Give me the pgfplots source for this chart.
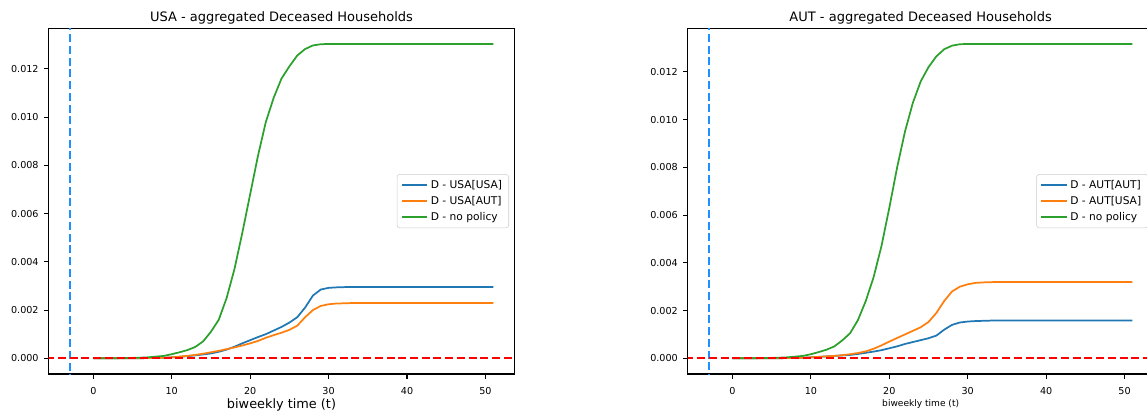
\documentclass[border=0pt]{standalone}
\usepackage{fontspec}
\setmainfont{DejaVu Sans}
\usepackage{pgfplots}
\pgfplotsset{compat=1.18}
\usepackage{pgfplotstable}

\definecolor{tabblue}{HTML}{1F77B4}
\definecolor{taborange}{HTML}{FF7F0E}
\definecolor{tabgreen}{HTML}{2CA02C}
\definecolor{vblue}{HTML}{1E90FF}
\definecolor{legframe}{HTML}{CCCCCC}

\pgfplotstableread{
t b o g
0 0 0 0
1 0 0 0
2 0 0 0.000002
3 0.000001 0.000001 0.000005
4 0.000002 0.000002 0.00001
5 0.000003 0.000003 0.000015
6 0.000005 0.000005 0.000025
7 0.000008 0.000008 0.00004
8 0.000012 0.000012 0.00007
9 0.00002 0.00002 0.0001
10 0.00004 0.00004 0.00017
11 0.00006 0.00007 0.00025
12 0.00009 0.0001 0.00034
13 0.00012 0.00014 0.00047
14 0.00016 0.00019 0.0007
15 0.0002 0.00025 0.0011
16 0.00027 0.00031 0.0016
17 0.00036 0.00038 0.0025
18 0.00048 0.00045 0.0037
19 0.00062 0.00053 0.0052
20 0.00075 0.00062 0.0068
21 0.00088 0.00072 0.0084
22 0.001 0.00085 0.0098
23 0.00115 0.00096 0.0108
24 0.0013 0.00106 0.0116
25 0.00148 0.00118 0.0121
26 0.0017 0.00135 0.01255
27 0.0021 0.0017 0.01282
28 0.0026 0.002 0.01297
29 0.00285 0.00217 0.01302
30 0.00292 0.00224 0.01303
31 0.00294 0.00227 0.01303
32 0.00295 0.00228 0.01303
33 0.00296 0.00229 0.01303
34 0.00296 0.00229 0.01303
35 0.00296 0.00229 0.01303
36 0.00296 0.00229 0.01303
37 0.00296 0.00229 0.01303
38 0.00296 0.00229 0.01303
39 0.00296 0.00229 0.01303
40 0.00296 0.00229 0.01303
41 0.00296 0.00229 0.01303
42 0.00296 0.00229 0.01303
43 0.00296 0.00229 0.01303
44 0.00296 0.00229 0.01303
45 0.00296 0.00229 0.01303
46 0.00296 0.00229 0.01303
47 0.00296 0.00229 0.01303
48 0.00296 0.00229 0.01303
49 0.00296 0.00229 0.01303
50 0.00296 0.00229 0.01303
51 0.00296 0.00229 0.01303
}\usadata

\pgfplotstableread{
t b o g
0 0 0 0
1 0 0 0
2 0 0 0.000002
3 0.000001 0.000001 0.000005
4 0.000002 0.000002 0.00001
5 0.000003 0.000003 0.000015
6 0.000005 0.000005 0.000025
7 0.000008 0.000008 0.00004
8 0.000012 0.000012 0.00007
9 0.00002 0.00002 0.0001
10 0.00004 0.00004 0.00017
11 0.00006 0.00006 0.00026
12 0.00008 0.00008 0.00036
13 0.0001 0.0001 0.0005
14 0.00012 0.00013 0.00075
15 0.00014 0.00017 0.00105
16 0.00018 0.00022 0.0016
17 0.00023 0.00029 0.0024
18 0.00028 0.0004 0.0034
19 0.00034 0.00054 0.0047
20 0.00042 0.0007 0.0063
21 0.0005 0.00085 0.0080
22 0.0006 0.001 0.0095
23 0.00068 0.00115 0.0107
24 0.00076 0.0013 0.0116
25 0.00084 0.00152 0.0122
26 0.00095 0.0019 0.01265
27 0.0012 0.0024 0.01295
28 0.0014 0.0028 0.01310
29 0.0015 0.003 0.01316
30 0.00154 0.0031 0.01317
31 0.00156 0.00316 0.01317
32 0.00157 0.00318 0.01317
33 0.00158 0.00319 0.01317
34 0.00158 0.0032 0.01317
35 0.00158 0.0032 0.01317
36 0.00158 0.0032 0.01317
37 0.00158 0.0032 0.01317
38 0.00158 0.0032 0.01317
39 0.00158 0.0032 0.01317
40 0.00158 0.0032 0.01317
41 0.00158 0.0032 0.01317
42 0.00158 0.0032 0.01317
43 0.00158 0.0032 0.01317
44 0.00158 0.0032 0.01317
45 0.00158 0.0032 0.01317
46 0.00158 0.0032 0.01317
47 0.00158 0.0032 0.01317
48 0.00158 0.0032 0.01317
49 0.00158 0.0032 0.01317
50 0.00158 0.0032 0.01317
51 0.00158 0.0032 0.01317
}\autdata

\pgfplotsset{
  panel/.style={
    scale only axis, width=349.4pt, height=259.3pt,
    anchor=south west,
    xmin=-5.7, xmax=53.7,
    axis line style={line width=0.8pt},
    tick align=outside, xtick pos=bottom, ytick pos=left,
    major tick length=3.4pt,
    tick style={black, line width=0.8pt},
    xtick={0,10,20,30,40,50},
    ytick={0,0.002,0.004,0.006,0.008,0.010,0.012},
    scaled y ticks=false,
    yticklabel style={/pgf/number format/.cd, fixed, fixed zerofill, precision=3, /tikz/.cd},
    /pgf/number format/assume math mode=true,
    tick label style={font=\fontsize{7.2}{8.5}\selectfont},
    xticklabel style={anchor=base, yshift=-11.6pt},
    yticklabel style={anchor=east, inner sep=0pt, xshift=-3.9pt},
    title style={at={(axis description cs:0.5,1)}, anchor=base, yshift=-1pt, font=\fontsize{9.75}{11}\selectfont},
    legend style={at={(axis description cs:1,0.5)}, anchor=east, xshift=-4.1pt,
      draw=legframe, rounded corners=2pt, fill=white, fill opacity=0.8, text opacity=1,
      font=\fontsize{8}{9.5}\selectfont, inner xsep=3pt, inner ysep=2pt, row sep=0pt,
      nodes={inner ysep=2pt, text height=6.2pt, text depth=1.8pt}},
    legend cell align=left,
    legend image code/.code={\draw[#1, line width=1.3pt] (0pt,0.25pt) -- (19pt,0.25pt);},
    every axis plot/.append style={line width=1.3pt},
  }
}

\begin{document}
\begin{tikzpicture}
\begin{axis}[panel, at={(36.45pt,28.5pt)},
  ymin=-0.0006515, ymax=0.0136815,
  title={USA - aggregated Deceased Households},
  xlabel={biweekly time (t)},
  xlabel style={at={(axis description cs:0.5,0)}, anchor=base, yshift=-25.5pt, font=\fontsize{9.65}{11}\selectfont}]
\addplot[tabblue] table[x=t,y=b]{\usadata};
\addlegendentry{D - USA[USA]}
\addplot[taborange] table[x=t,y=o]{\usadata};
\addlegendentry{D - USA[AUT]}
\addplot[tabgreen] table[x=t,y=g]{\usadata};
\addlegendentry{D - no policy}
\addplot[vblue, line width=1.3pt, dash pattern=on 6pt off 2.8pt, forget plot] coordinates {(-3,-0.001) (-3,0.015)};
\addplot[red, line width=1.3pt, dash pattern=on 6pt off 2.8pt, forget plot] coordinates {(-6,0) (54,0)};
\end{axis}
\begin{axis}[panel, at={(515.8pt,28.5pt)},
  ymin=-0.0006585, ymax=0.0138285,
  title={AUT - aggregated Deceased Households},
  xlabel={biweekly time (t)},
  xlabel style={at={(axis description cs:0.5,0)}, anchor=base, yshift=-24pt, font=\fontsize{6.8}{8}\selectfont}]
\addplot[tabblue] table[x=t,y=b]{\autdata};
\addlegendentry{D - AUT[AUT]}
\addplot[taborange] table[x=t,y=o]{\autdata};
\addlegendentry{D - AUT[USA]}
\addplot[tabgreen] table[x=t,y=g]{\autdata};
\addlegendentry{D - no policy}
\addplot[vblue, line width=1.3pt, dash pattern=on 6pt off 2.8pt, forget plot] coordinates {(-3,-0.001) (-3,0.015)};
\addplot[red, line width=1.3pt, dash pattern=on 6pt off 2.8pt, forget plot] coordinates {(-6,0) (54,0)};
\end{axis}
\pgfresetboundingbox
\useasboundingbox (0,0) rectangle (860.25pt,309pt);
\end{tikzpicture}
\end{document}
